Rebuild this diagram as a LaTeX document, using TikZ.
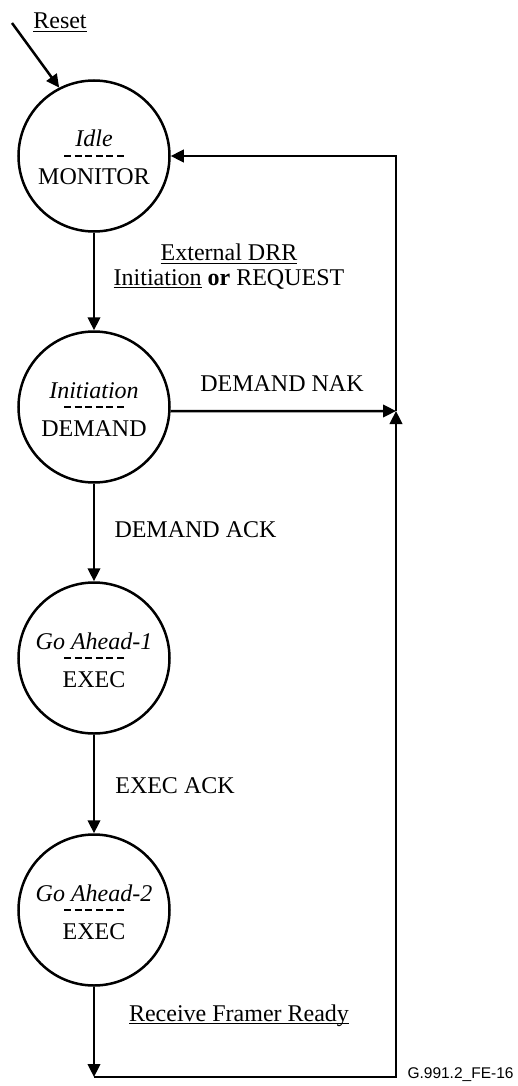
\documentclass[tikz,border=0pt]{standalone}
\usepackage{fontspec}
\setmainfont{Liberation Serif}
\newfontfamily\figsans{Liberation Sans}
\usetikzlibrary{arrows.meta,calc}
% underline drawn at a fixed depth below the baseline
\newcommand\ulx[1]{\setbox0\hbox{#1}\rlap{\rule[-3.4pt]{\wd0}{1.3pt}}\box0\relax}
\begin{document}
\begin{tikzpicture}[x=1pt,y=-1pt,line width=2.5pt,
  >={Triangle[length=13pt,width=12.5pt]},
  stateC/.style={circle,draw,minimum size=151pt,inner sep=0pt},
  lbl/.style={font=\fontsize{24pt}{28pt}\selectfont,inner sep=0pt,text height=16pt,text depth=0pt},
  sname/.style={lbl,font=\fontsize{24pt}{28pt}\selectfont\itshape},
  divider/.style={line width=1.3pt,dash pattern=on 7pt off 3.6pt}]
\useasboundingbox (0,0) rectangle (517,1086);

% states
\node[stateC] (idle) at (94,156) {};
\node[stateC] (init) at (94,407) {};
\node[stateC] (ga1)  at (94,658) {};
\node[stateC] (ga2)  at (94,910) {};

\foreach \n/\a/\b in {idle/Idle/MONITOR, init/Initiation/DEMAND, ga1/Go Ahead-1/EXEC, ga2/Go Ahead-2/EXEC}{
  \node[sname] (\n-name) at ($(\n)+(0,-17)$) {\a};
  \draw[divider] ($(\n)+(-30,0)$) -- ($(\n)+(30,0)$);
  \node[lbl] (\n-act) at ($(\n)+(0,21)$) {\b};
}

% route points
\coordinate (resetStart) at (12,23);
\coordinate (join) at (396,411);
\coordinate (topR) at (396,156);
\coordinate (botL) at (94,1077);
\coordinate (botR) at (396,1077);

% transitions
\draw[->] (resetStart) -- (idle.117);
\draw[->] (idle) -- (init);
\draw[->] (init) -- (ga1);
\draw[->] (ga1) -- (ga2);
\draw[->] (ga2) -- (botL);
\draw[->] (init.-3) -- (join);
\draw[->] (botL) -- (botR) -- (join);
\draw[->] (join) -- (topR) -- (idle.east);

% labels
\node[lbl] (reset) at (60,21) {\ulx{Reset}};
\node[lbl] (ext1) at (229,252.5) {\ulx{External DRR}};
\node[lbl] (ext2) at (229,277) {\ulx{Initiation} \textbf{or} REQUEST};
\node[lbl] (nak) at (282,383) {DEMAND NAK};
\node[lbl] (ack) at (195.5,529) {DEMAND ACK};
\node[lbl] (eack) at (175,785) {EXEC ACK};
\node[lbl] (rfr) at (239,1013) {\ulx{Receive Framer Ready}};
\node[font=\figsans\fontsize{15.5pt}{18pt}\selectfont,inner sep=0pt,text height=11pt,text depth=0pt] (figid) at (460.5,1073) {G.991.2\_FE-16};
\end{tikzpicture}
\end{document}
